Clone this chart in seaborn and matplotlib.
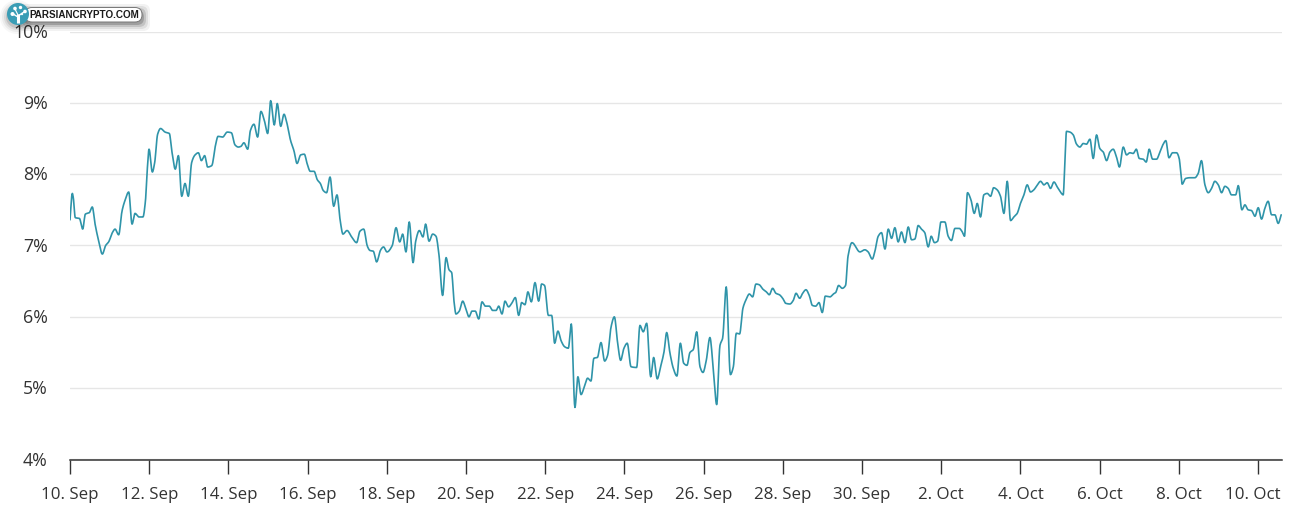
import numpy as np
import pandas as pd
import matplotlib
matplotlib.use("Agg")
import matplotlib.pyplot as plt
from matplotlib.patches import FancyBboxPatch, Circle
from matplotlib.transforms import ScaledTranslation
import seaborn as sns

# Hours since 10 Sep 00:00 and the rate in percent at that moment
hours = [
    0, 1.4, 2.0, 3.2, 5.7, 7.7, 9.3, 11.7, 13.5, 15.2, 17.2, 19.6, 21.6, 23.4, 25.9, 27.3, 29.5, 31.5, 33.3, 35.6,
    37.6, 39.4, 41.8, 44.2, 45.7, 46.9, 47.9, 49.9, 51.3, 53.1, 54.9, 57.6, 60.2, 61.8, 63.8, 65.7, 67.7, 69.7, 71.7, 73.7,
    75.8, 77.8, 79.6, 81.6, 83.4, 85.9, 88.3, 89.7, 92.5, 95.3, 97.8, 100, 102, 103.6, 105.4, 107.7, 109.3, 111.5, 113.7, 115.7,
    117.8, 119.8, 121.6, 123.8, 125.6, 127.7, 129.7, 131.3, 133.7, 135.7, 137.6, 139.8, 142, 143.8, 145.6, 147.9, 149.9, 151.7, 153.5, 155.5,
    157.6, 159.8, 161.8, 163.8, 165.4, 167.9, 170.7, 173.7, 175.7, 178, 180.2, 181.8, 183.8, 185.8, 188.3, 190, 192.1, 195.3, 197.6, 199.8,
    201.6, 203.6, 205.6, 207.9, 209.5, 211.7, 213.9, 215.5, 217.6, 219.8, 221.8, 223.6, 225.8, 227.9, 229.7, 231.3, 232.7, 233.9, 235.9, 238,
    239.8, 241.8, 243.6, 245.6, 247.7, 249.7, 251.7, 254.1, 256.1, 258.2, 259.8, 261.8, 263.6, 265.8, 267.7, 269.9, 271.9, 273.7, 275.7, 277.5,
    279.6, 281.8, 284, 285.8, 287.6, 289.9, 291.9, 293.7, 295.7, 297.7, 299.8, 302, 303.8, 306, 307.8, 309.7, 311.7, 313.7, 315.7, 317.5,
    319.6, 321.8, 324, 325.8, 327.9, 329.9, 331.9, 333.7, 335.7, 337.7, 340, 343.4, 345.4, 347.4, 349.5, 351.9, 353.7, 355.9, 357.9, 360,
    361.6, 363.6, 365.6, 367.8, 369.9, 371.9, 373.9, 375.7, 377.7, 379.8, 381.8, 383.6, 385.6, 387.8, 389.9, 391.9, 393.9, 395.5, 397.7, 400.2,
    402, 403.8, 405.8, 407.8, 409.7, 411.7, 413.7, 415.7, 417.7, 419.8, 422, 423.8, 425.8, 427.8, 429.9, 431.9, 433.7, 436.3, 438.3, 440,
    442.2, 444, 446, 448, 449.9, 451.9, 453.9, 455.9, 457.7, 460.6, 462.6, 464, 465.8, 468, 470, 471.5, 473.9, 478.7, 481.7, 483.7,
    486.2, 487.8, 489.8, 491.8, 493.9, 495.9, 497.9, 499.9, 501.9, 503.9, 506, 508, 510, 512, 514, 516, 518, 520.1, 521.9, 523.9,
    525.8, 527.8, 530.2, 532.2, 534.2, 536.3, 538.9, 540.5, 542.1, 542.9, 543.9, 546, 548, 549.8, 551.8, 553.8, 555.9, 557.9, 559.7, 561.9,
    563.9, 566, 568, 570, 572, 574, 576, 578.1, 580.1, 582.1, 584.1, 586.2, 588.2, 590.2, 592.2, 594.2, 596.3, 598.3, 600.5, 601.9,
    602.9, 603.9, 606, 608, 610, 612, 614, 616, 618.1, 620.1, 622.1, 624.1, 626.2, 628.2, 630.2, 632.2, 634.2, 636, 638.3, 640.3,
    642.3, 644.3, 646.2, 648, 650.4, 652.2, 654, 656.1, 658.5, 660.5, 662.5, 664.1, 666, 668.2, 670.6, 672.2, 673, 674, 676.1, 678.7,
    681.7, 683.7, 685.7, 687.8, 689.8, 691.8, 693.8, 695.9, 697.9, 699.9, 701.9, 703.9, 706.4, 708, 710.2, 712, 714, 716, 718.1, 720.1,
    722.1, 724.1, 726.1, 728.2, 730.2, 732.2, 734,
]
rates = [
    7.36, 7.73, 7.67, 7.39, 7.38, 7.23, 7.44, 7.46, 7.54, 7.30, 7.08, 6.88, 7.00, 7.05, 7.19, 7.23, 7.15, 7.48, 7.63, 7.75,
    7.30, 7.45, 7.40, 7.40, 7.62, 8.09, 8.35, 8.03, 8.16, 8.56, 8.64, 8.59, 8.57, 8.31, 8.07, 8.26, 7.69, 7.87, 7.69, 8.16,
    8.27, 8.30, 8.19, 8.26, 8.10, 8.12, 8.42, 8.53, 8.52, 8.59, 8.58, 8.41, 8.38, 8.39, 8.44, 8.35, 8.61, 8.70, 8.52, 8.88,
    8.75, 8.57, 9.03, 8.69, 8.99, 8.67, 8.84, 8.73, 8.47, 8.33, 8.15, 8.27, 8.28, 8.14, 8.04, 8.04, 7.92, 7.87, 7.77, 7.74,
    7.96, 7.55, 7.71, 7.34, 7.16, 7.21, 7.12, 7.04, 7.20, 7.23, 6.99, 6.93, 6.92, 6.77, 6.94, 6.98, 6.91, 7.00, 7.25, 7.05,
    7.16, 6.91, 7.33, 6.76, 7.06, 7.21, 7.12, 7.30, 7.06, 7.16, 7.13, 6.87, 6.30, 6.83, 6.66, 6.62, 6.22, 6.04, 6.08, 6.22,
    6.12, 6.00, 6.08, 6.08, 5.97, 6.21, 6.15, 6.15, 6.09, 6.09, 6.15, 6.04, 6.22, 6.14, 6.19, 6.27, 6.02, 6.20, 6.17, 6.35,
    6.21, 6.48, 6.22, 6.46, 6.44, 6.02, 6.02, 5.63, 5.80, 5.66, 5.58, 5.56, 5.90, 4.73, 5.16, 4.91, 5.02, 5.14, 5.10, 5.42,
    5.43, 5.64, 5.38, 5.46, 5.86, 6.00, 5.63, 5.39, 5.56, 5.63, 5.30, 5.29, 5.88, 5.79, 5.91, 5.16, 5.43, 5.13, 5.30, 5.51,
    5.78, 5.49, 5.28, 5.17, 5.63, 5.35, 5.32, 5.50, 5.54, 5.79, 5.30, 5.22, 5.39, 5.71, 5.25, 4.77, 5.60, 5.70, 6.42, 5.19,
    5.30, 5.77, 5.76, 6.12, 6.24, 6.32, 6.28, 6.46, 6.45, 6.39, 6.35, 6.31, 6.40, 6.33, 6.31, 6.26, 6.19, 6.18, 6.23, 6.33,
    6.26, 6.33, 6.38, 6.30, 6.16, 6.15, 6.20, 6.06, 6.29, 6.28, 6.32, 6.34, 6.44, 6.40, 6.44, 6.85, 7.04, 6.91, 6.94, 6.91,
    6.81, 6.92, 7.13, 7.18, 6.95, 7.23, 7.10, 7.25, 7.05, 7.19, 7.04, 7.26, 7.08, 7.09, 7.28, 7.23, 7.18, 6.98, 7.13, 7.04,
    7.06, 7.33, 7.33, 7.13, 7.07, 7.24, 7.24, 7.20, 7.13, 7.41, 7.74, 7.64, 7.45, 7.59, 7.40, 7.71, 7.73, 7.69, 7.81, 7.78,
    7.69, 7.45, 7.90, 7.35, 7.40, 7.45, 7.59, 7.71, 7.85, 7.75, 7.78, 7.85, 7.90, 7.85, 7.88, 7.80, 7.89, 7.82, 7.74, 7.71,
    8.15, 8.60, 8.59, 8.55, 8.42, 8.38, 8.43, 8.42, 8.49, 8.22, 8.55, 8.36, 8.31, 8.19, 8.31, 8.35, 8.24, 8.10, 8.38, 8.27,
    8.30, 8.29, 8.35, 8.22, 8.21, 8.17, 8.35, 8.21, 8.21, 8.31, 8.42, 8.47, 8.23, 8.30, 8.30, 8.22, 8.06, 7.86, 7.94, 7.95,
    7.95, 8.01, 8.19, 7.85, 7.74, 7.80, 7.90, 7.85, 7.74, 7.83, 7.80, 7.71, 7.71, 7.84, 7.50, 7.57, 7.50, 7.49, 7.41, 7.53,
    7.37, 7.52, 7.62, 7.43, 7.43, 7.31, 7.43,
]
tick_days = [0, 2, 4, 6, 8, 10, 12, 14, 16, 18, 20, 22, 24, 26, 28, 30]
tick_labels = [
    "10. Sep", "12. Sep", "14. Sep", "16. Sep", "18. Sep", "20. Sep", "22. Sep", "24. Sep",
    "26. Sep", "28. Sep", "30. Sep", "2. Oct", "4. Oct", "6. Oct", "8. Oct", "10. Oct",
]
percent_ticks = [4, 5, 6, 7, 8, 9, 10]
LINE_COLOR = "#2f94a9"
INK = "#333333"
badge_name = "PARSIANCRYPTO.COM"


def spline_curve(x, y, per_segment=8):
    """Shape-preserving cubic through every (x, y), rounded at peaks and troughs."""
    x, y = np.asarray(x, float), np.asarray(y, float)
    h = np.diff(x)
    s = np.diff(y) / h
    m = np.zeros_like(y)
    for i in range(1, len(y) - 1):
        if s[i - 1] * s[i] > 0:
            w1, w2 = 2 * h[i] + h[i - 1], h[i] + 2 * h[i - 1]
            m[i] = (w1 + w2) / (w1 / s[i - 1] + w2 / s[i])
    m[0], m[-1] = s[0], s[-1]
    t = np.linspace(0, 1, per_segment, endpoint=False)
    xs, ys = [], []
    for i in range(len(h)):
        xs.append(x[i] + t * h[i])
        ys.append((2 * t**3 - 3 * t**2 + 1) * y[i] + (t**3 - 2 * t**2 + t) * h[i] * m[i]
                  + (-2 * t**3 + 3 * t**2) * y[i + 1] + (t**3 - t**2) * h[i] * m[i + 1])
    return np.append(np.concatenate(xs), x[-1]), np.append(np.concatenate(ys), y[-1])


sns.set_theme(style="white")
plt.rcParams["font.family"] = ["Open Sans", "DejaVu Sans"]

W, H = 1297, 512
fig = plt.figure(figsize=(W / 100, H / 100), dpi=100, facecolor="white")
ax = fig.add_axes([70 / W, 1 - 459.5 / H, (1282 - 70) / W, (459.5 - 31.5) / H])

curve_x, curve_y = spline_curve(hours, rates)
frame = pd.DataFrame({"hour": curve_x, "rate": curve_y})
sns.lineplot(data=frame, x="hour", y="rate", color=LINE_COLOR, linewidth=1.2, ax=ax, sort=False, errorbar=None)

ax.set_xlim(0, 734.5)
ax.set_ylim(4, 10)
ax.set_xlabel("")
ax.set_ylabel("")
ax.set_xticks([d * 24 for d in tick_days])
ax.set_xticklabels(tick_labels)
ax.set_yticks(percent_ticks)
ax.set_yticklabels([f"{p}%" for p in percent_ticks])
ax.yaxis.grid(True, color="#e6e6e6", linewidth=1.0)
ax.set_axisbelow(True)
for side in ("top", "right", "left"):
    ax.spines[side].set_visible(False)
ax.spines["bottom"].set_color(INK)
ax.spines["bottom"].set_linewidth(1.1)
ax.tick_params(axis="x", bottom=True, length=10, width=1.0, color=INK, pad=9.5, labelsize=12.2, labelcolor=INK)
ax.tick_params(axis="y", left=False, pad=10, labelsize=12.8, labelcolor=INK)

# The last date label is pulled inwards so that it stays within the plot width
last = ax.get_xticklabels()[-1]
last.set_transform(last.get_transform() + ScaledTranslation(-5 / 100, 0, fig.dpi_scale_trans))

# Percent labels sit slightly above their grid lines
for label in ax.get_yticklabels():
    label.set_transform(label.get_transform() + ScaledTranslation(0, 1 / 100, fig.dpi_scale_trans))

# Site badge in the top left corner, laid out in figure pixels
overlay = fig.add_axes([0, 0, 1, 1], zorder=10)
overlay.set_xlim(0, W)
overlay.set_ylim(H, 0)
overlay.axis("off")
overlay.patch.set_alpha(0)
for grow, alpha in ((6, 0.05), (4, 0.08), (2, 0.12), (0, 0.18)):
    overlay.add_patch(FancyBboxPatch((24 - grow, 10 - grow), 120 + 2 * grow, 15 + 2 * grow,
                                     boxstyle="round,pad=0,rounding_size=7", fc="black", ec="none", alpha=alpha))
    overlay.add_patch(Circle((17, 17), 11 + grow, fc="black", ec="none", alpha=alpha * 0.6))
overlay.add_patch(FancyBboxPatch((25, 7.5), 117, 14.5, boxstyle="round,pad=0,rounding_size=7",
                                 fc="white", ec="#777777", lw=0.7))
overlay.add_patch(Circle((18, 14), 11, fc="#3a9db5", ec="none"))
for cx, cy, r in ((12.5, 14, 2), (15, 8.5, 1.8), (20.5, 7.5, 1.7), (25, 11.5, 1.8), (22, 14, 1.2)):
    overlay.add_patch(Circle((cx, cy), r, fc="white", ec="none"))
overlay.plot([18, 18], [23, 14], color="white", lw=2.2, solid_capstyle="butt")
overlay.plot([18, 13], [17, 14], color="white", lw=1.0)
overlay.plot([18, 15], [15, 9], color="white", lw=0.8)
overlay.plot([18, 24], [16, 12], color="white", lw=1.0)
overlay.text(84.5, 15, badge_name, ha="center", va="center", fontsize=7.1, color="#1a1a1a",
             fontweight="bold", family=["Liberation Sans", "DejaVu Sans"])

fig.savefig("out.png", dpi=100, facecolor="white")
